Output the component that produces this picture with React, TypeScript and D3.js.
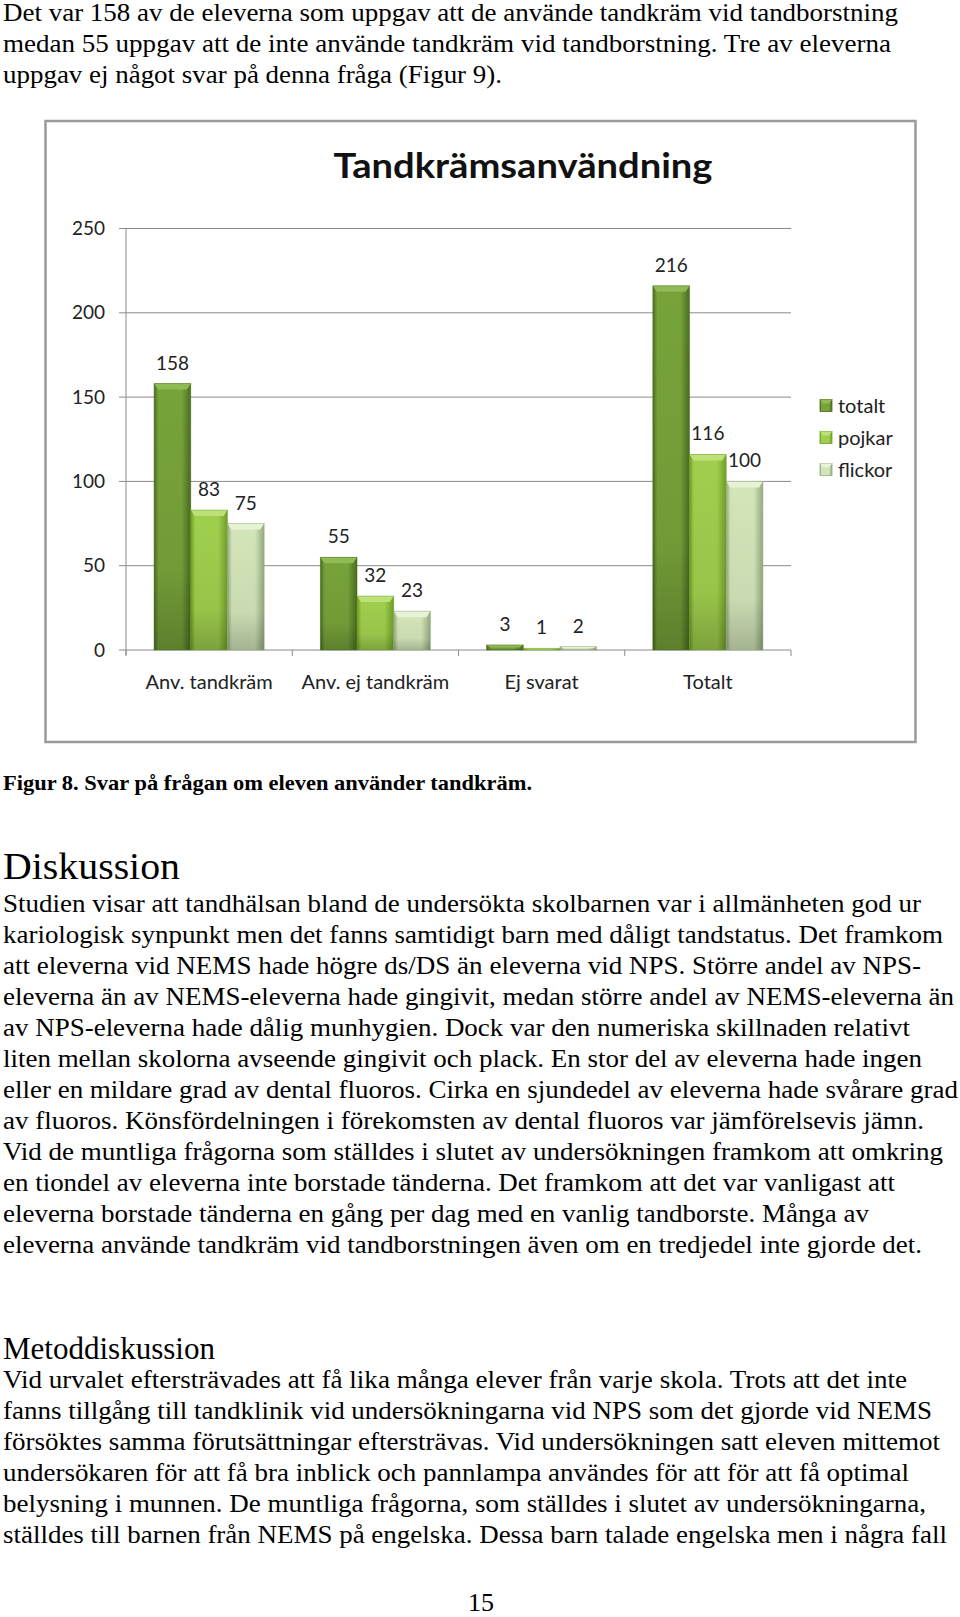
import React, { useRef, useEffect } from "react";
import * as d3 from "d3";

// chart data
const categories = ["Anv. tandkräm", "Anv. ej tandkräm", "Ej svarat", "Totalt"];
const seriesNames = ["totalt", "pojkar", "flickor"];
const totalt = [158, 55, 3, 216];
const pojkar = [83, 32, 1, 116];
const flickor = [75, 23, 2, 100];
const yTicks = [0, 50, 100, 150, 200, 250];

// page text
const introLines = [
  "Det var 158 av de eleverna som uppgav att de använde tandkräm vid tandborstning",
  "medan 55 uppgav att de inte använde tandkräm vid tandborstning. Tre av eleverna",
  "uppgav ej något svar på denna fråga (Figur 9).",
];
const caption = "Figur 8. Svar på frågan om eleven använder tandkräm.";
const discussionLines = [
  "Studien visar att tandhälsan bland de undersökta skolbarnen var i allmänheten god ur",
  "kariologisk synpunkt men det fanns samtidigt barn med dåligt tandstatus. Det framkom",
  "att eleverna vid NEMS hade högre ds/DS än eleverna vid NPS. Större andel av NPS-",
  "eleverna än av NEMS-eleverna hade gingivit, medan större andel av NEMS-eleverna än",
  "av NPS-eleverna hade dålig munhygien. Dock var den numeriska skillnaden relativt",
  "liten mellan skolorna avseende gingivit och plack. En stor del av eleverna hade ingen",
  "eller en mildare grad av dental fluoros. Cirka en sjundedel av eleverna hade svårare grad",
  "av fluoros. Könsfördelningen i förekomsten av dental fluoros var jämförelsevis jämn.",
  "Vid de muntliga frågorna som ställdes i slutet av undersökningen framkom att omkring",
  "en tiondel av eleverna inte borstade tänderna. Det framkom att det var vanligast att",
  "eleverna borstade tänderna en gång per dag med en vanlig tandborste. Många av",
  "eleverna använde tandkräm vid tandborstningen även om en tredjedel inte gjorde det.",
];
const methodLines = [
  "Vid urvalet eftersträvades att få lika många elever från varje skola. Trots att det inte",
  "fanns tillgång till tandklinik vid undersökningarna vid NPS som det gjorde vid NEMS",
  "försöktes samma förutsättningar eftersträvas. Vid undersökningen satt eleven mittemot",
  "undersökaren för att få bra inblick och pannlampa användes för att för att få optimal",
  "belysning i munnen. De muntliga frågorna, som ställdes i slutet av undersökningarna,",
  "ställdes till barnen från NEMS på engelska. Dessa barn talade engelska men i några fall",
];

// line widths measured from the page (layout only)
const introWidths = [895, 888, 499];
const discussionWidths = [918, 940, 918, 951, 907, 919, 955, 921, 940, 892, 866, 919];
const methodWidths = [904, 929, 937, 906, 923, 944];

const serif = "'Liberation Serif', 'Times New Roman', serif";
const sans = "Lato, 'Open Sans', sans-serif";

const colors = {
  totalt: { edge: "#4a6d1e", mid: "#77a33a", cap: "#90bb54" },
  pojkar: { edge: "#6e9e27", mid: "#a0cf4d", cap: "#bce178" },
  flickor: { edge: "#95aa80", mid: "#d3e6b9", cap: "#e8f3d6" },
};

const Chart = () => {
  const ref = useRef(null);

  useEffect(() => {
    const g = d3.select(ref.current);
    g.selectAll("*").remove();

    const left = 126;
    const right = 791;
    const top = 228.5;
    const bottom = 650;

    const defs = g.append("defs");
    seriesNames.forEach((s) => {
      const c = colors[s];
      const grad = defs
        .append("linearGradient")
        .attr("id", `grad-${s}`)
        .attr("x1", "0")
        .attr("x2", "1")
        .attr("y1", "0")
        .attr("y2", "0");
      grad.append("stop").attr("offset", "0").attr("stop-color", c.edge);
      grad.append("stop").attr("offset", "0.12").attr("stop-color", c.mid);
      grad.append("stop").attr("offset", "0.75").attr("stop-color", c.mid);
      grad.append("stop").attr("offset", "1").attr("stop-color", c.edge);
    });
    const shade = defs
      .append("linearGradient")
      .attr("id", "shade")
      .attr("x1", "0")
      .attr("x2", "0")
      .attr("y1", "0")
      .attr("y2", "1");
    shade.append("stop").attr("offset", "0").attr("stop-color", "#000").attr("stop-opacity", 0);
    shade.append("stop").attr("offset", "0.7").attr("stop-color", "#000").attr("stop-opacity", 0.05);
    shade.append("stop").attr("offset", "1").attr("stop-color", "#000").attr("stop-opacity", 0.22);

    // frame
    g.append("rect")
      .attr("x", 45.5)
      .attr("y", 121)
      .attr("width", 870)
      .attr("height", 621)
      .attr("fill", "#fff")
      .attr("stroke", "#9a9a9a")
      .attr("stroke-width", 2.5);

    // title
    g.append("text")
      .attr("x", 523)
      .attr("y", 178)
      .attr("text-anchor", "middle")
      .attr("font-family", sans)
      .attr("font-weight", "bold")
      .attr("font-size", 34)
      .attr("textLength", 379)
      .attr("lengthAdjust", "spacingAndGlyphs")
      .attr("fill", "#111")
      .text("Tandkrämsanvändning");

    // scales
    const x0 = d3.scaleBand().domain(categories).range([left, right]).padding(0);
    const x1 = d3
      .scaleBand()
      .domain(seriesNames)
      .range([0, x0.bandwidth()])
      .paddingInner(0)
      .paddingOuter(0.765);
    const y = d3.scaleLinear().domain([0, 250]).range([bottom, top]);

    // gridlines + y labels
    yTicks.forEach((t) => {
      g.append("line")
        .attr("x1", left - 7)
        .attr("x2", right)
        .attr("y1", y(t))
        .attr("y2", y(t))
        .attr("stroke", "#8a8a8a")
        .attr("stroke-width", 1);
      g.append("text")
        .attr("x", 105)
        .attr("y", y(t))
        .attr("dy", "0.35em")
        .attr("text-anchor", "end")
        .attr("font-family", sans)
        .attr("font-size", 19)
        .attr("fill", "#222")
        .text(t);
    });

    // y axis line
    g.append("line")
      .attr("x1", left)
      .attr("x2", left)
      .attr("y1", top)
      .attr("y2", bottom + 5)
      .attr("stroke", "#8a8a8a");

    // category boundary ticks
    [...categories.map((c) => x0(c)), right].forEach((xv) => {
      g.append("line")
        .attr("x1", xv)
        .attr("x2", xv)
        .attr("y1", bottom)
        .attr("y2", bottom + 6)
        .attr("stroke", "#8a8a8a");
    });

    // category labels
    g.selectAll(".cat")
      .data(categories)
      .join("text")
      .attr("x", (d) => x0(d) + x0.bandwidth() / 2)
      .attr("y", 682)
      .attr("dy", "0.35em")
      .attr("text-anchor", "middle")
      .attr("font-family", sans)
      .attr("font-size", 20)
      .attr("fill", "#222")
      .text((d) => d);

    const seriesData = { totalt, pojkar, flickor };
    const bars = [];
    categories.forEach((c, i) => {
      seriesNames.forEach((s) => {
        bars.push({ cat: c, s, v: seriesData[s][i] });
      });
    });

    const bw = x1.bandwidth();
    const barG = g.append("g");
    bars.forEach((d) => {
      const bx = x0(d.cat) + x1(d.s);
      const by = y(d.v);
      const h = bottom - by;
      const c = colors[d.s];
      barG
        .append("rect")
        .attr("x", bx)
        .attr("y", by)
        .attr("width", bw)
        .attr("height", h)
        .attr("fill", `url(#grad-${d.s})`);
      barG
        .append("rect")
        .attr("x", bx)
        .attr("y", by)
        .attr("width", bw)
        .attr("height", h)
        .attr("fill", "url(#shade)");
      const cap = Math.min(6, h / 2);
      barG
        .append("path")
        .attr(
          "d",
          `M${bx},${by}L${bx + bw},${by}L${bx + bw - 4},${by + cap}L${bx + 4},${by + cap}Z`
        )
        .attr("fill", c.cap);
      barG
        .append("rect")
        .attr("x", bx)
        .attr("y", by)
        .attr("width", bw)
        .attr("height", h)
        .attr("fill", "none")
        .attr("stroke", c.edge)
        .attr("stroke-opacity", 0.6)
        .attr("stroke-width", 0.8);
      // value label
      g.append("text")
        .attr("x", bx + bw / 2)
        .attr("y", by - 14)
        .attr("text-anchor", "middle")
        .attr("font-family", sans)
        .attr("font-size", 19)
        .attr("fill", "#222")
        .text(d.v);
    });

    // legend
    const legendY = [406, 438, 470];
    seriesNames.forEach((s, i) => {
      const c = colors[s];
      g.append("rect")
        .attr("x", 820)
        .attr("y", legendY[i] - 6.5)
        .attr("width", 12)
        .attr("height", 12)
        .attr("fill", `url(#grad-${s})`)
        .attr("stroke", c.edge)
        .attr("stroke-width", 0.8);
      g.append("path")
        .attr("d", `M820,${legendY[i] - 6.5}L832,${legendY[i] - 6.5}L829,${legendY[i] - 2.5}L823,${legendY[i] - 2.5}Z`)
        .attr("fill", c.cap);
      g.append("text")
        .attr("x", 838)
        .attr("y", legendY[i])
        .attr("dy", "0.35em")
        .attr("font-family", sans)
        .attr("font-size", 20)
        .attr("fill", "#222")
        .text(s);
    });
  }, []);

  return <g ref={ref}></g>;
};

const Lines = ({ lines, widths, y0, step, size, weight }) => (
  <>
    {lines.map((t, i) => (
      <text
        key={i}
        x={3}
        y={y0 + i * step}
        fontFamily={serif}
        fontSize={size}
        fontWeight={weight || "normal"}
        textLength={widths[i]}
        lengthAdjust="spacingAndGlyphs"
        fill="#000"
      >
        {t}
      </text>
    ))}
  </>
);

export default function App() {
  return (
    <svg
      width={960}
      height={1617}
      style={{ position: "absolute", left: 0, top: 0, background: "#fff" }}
    >
      <rect x={0} y={0} width={960} height={1617} fill="#fff" />
      <Lines lines={introLines} widths={introWidths} y0={21} step={31} size={25} />
      <Chart />
      <Lines lines={[caption]} widths={[529]} y0={790} step={31} size={22} weight="bold" />
      <Lines lines={["Diskussion"]} widths={[177]} y0={879} step={31} size={38} />
      <Lines lines={discussionLines} widths={discussionWidths} y0={912} step={31.03} size={25} />
      <Lines lines={["Metoddiskussion"]} widths={[212]} y0={1359} step={31} size={32} />
      <Lines lines={methodLines} widths={methodWidths} y0={1388} step={31.03} size={25} />
      <text
        x={481}
        y={1611}
        textAnchor="middle"
        fontFamily={serif}
        fontSize={26}
        fill="#000"
      >
        15
      </text>
    </svg>
  );
}
